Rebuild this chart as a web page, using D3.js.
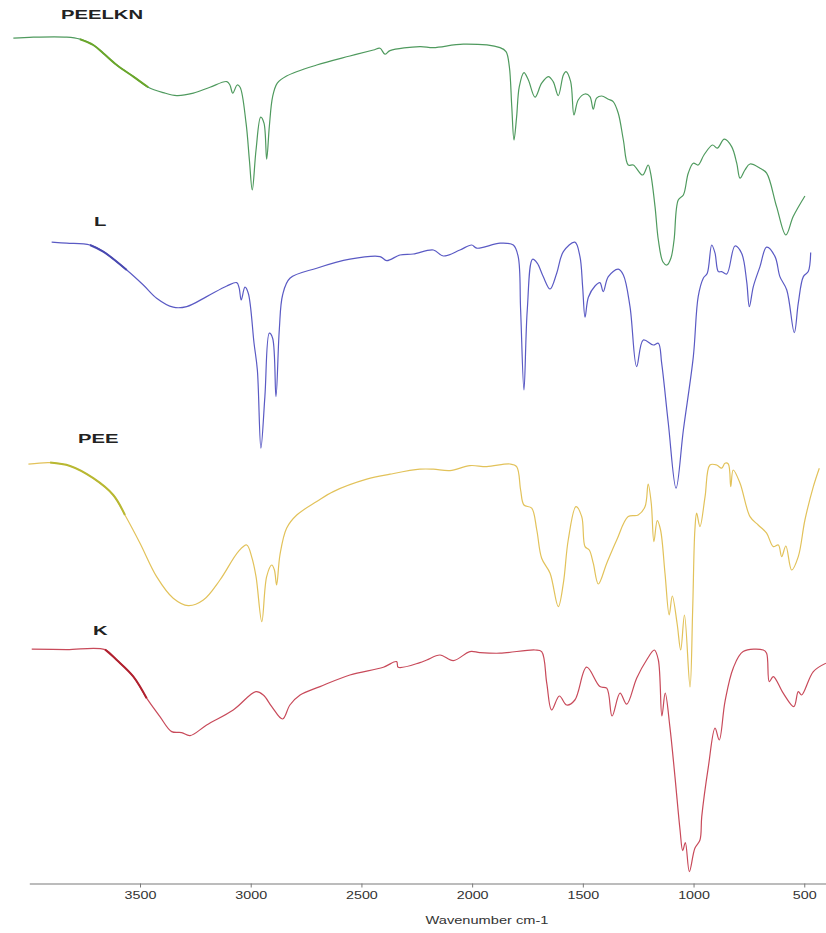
<!DOCTYPE html>
<html>
<head>
<meta charset="utf-8">
<script src="https://cdn.jsdelivr.net/npm/d3@7"></script>
<style>
  html, body { margin: 0; padding: 0; background: #fff; }
  svg { display: block; }
</style>
</head>
<body>
<svg id="chart" width="826" height="933"></svg>
<script>
// FTIR spectra, stacked with a vertical offset (a.u.). Each point: [wavenumber cm-1, offset transmittance]
const seriesNames = ["PEELKN", "L", "PEE", "K"];

const peelkn = [
  [4072,422.9],[3982,423.4],[3831,423.4],[3771,422.4],[3711,419.5],[3666,415.4],[3605,409.5],
  [3530,403.7],[3463,398.4],[3395,395.7],[3334,394.2],[3259,395.4],[3184,398.4],[3108,401.2],
  [3094,399.5],[3081,395.4],[3061,399.5],[3048,398.4],[3021,380.4],[3006,362],[2993,347],
  [2976,367],[2955,383.4],[2940,380.4],[2928,362.4],[2916,378.7],[2901,393.7],[2880,400.4],
  [2838,404],[2702,409.5],[2552,414],[2446,417],[2416,417.9],[2394,414.9],[2371,416.7],
  [2236,418.7],[2175,418.2],[2040,419.9],[1874,418.2],[1847,416.2],[1832,408.7],[1821,388.7],
  [1811,372],[1799,383.7],[1787,398.7],[1766,405.7],[1746,402],[1716,393.4],[1686,400.4],
  [1656,403.7],[1634,401.2],[1611,394.2],[1588,404.5],[1576,406.2],[1555,401.2],[1540,384.5],
  [1521,392],[1490,395],[1468,393.7],[1453,387.4],[1438,392.9],[1415,394],[1385,392.4],
  [1363,391.2],[1340,385.4],[1317,372],[1295,359.5],[1272,359.5],[1230,354.5],[1205,359.5],
  [1194,355.4],[1174,338.7],[1159,322],[1138,311],[1120,309.5],[1102,313],[1088,322],
  [1069,342],[1046,344.5],[1024,355.4],[1001,360.4],[979,359.5],[953,364.5],[914,369.5],
  [893,367.9],[861,372.4],[828,368.7],[805,360.4],[790,352.9],[768,357],[745,360],[700,357.9],
  [670,355.4],[625,338.7],[583,324.5],[550,333.7],[497,344]
];

const lSpec = [
  [3899,320.9],[3831,320.4],[3726,319.5],[3666,316.2],[3560,307],[3485,299.5],[3425,292.9],
  [3350,288.4],[3289,288.7],[3199,293.7],[3108,299],[3063,300.7],[3052,297.9],[3043,292],
  [3026,298.4],[3011,295.4],[2985,270.4],[2970,257],[2954,217.9],[2936,243.7],[2916,275.4],
  [2901,272.9],[2886,243.7],[2871,277],[2856,294.5],[2823,302.9],[2702,307.9],[2552,312.4],
  [2416,313.7],[2386,311.7],[2326,314.5],[2266,315],[2175,317],[2130,314],[2055,317],
  [2002,319.5],[1979,317.9],[1874,320.4],[1814,319.5],[1792,313.7],[1781,287],[1766,247],
  [1751,287],[1727,312.4],[1706,310.4],[1679,303.7],[1648,297.5],[1618,305.4],[1588,316.2],
  [1536,320.9],[1513,313.7],[1501,298.7],[1490,283.4],[1475,293.4],[1445,299],[1423,300.7],
  [1408,296.2],[1385,303.7],[1340,307.4],[1317,304.5],[1287,288.7],[1257,258.7],[1227,272],
  [1182,269.5],[1159,270.4],[1144,260.4],[1114,230.4],[1079,197.9],[1046,227],[1001,263.7],
  [979,293.7],[956,302.9],[938,305.4],[918,319.5],[903,315.4],[888,306.2],[873,306.2],
  [850,305],[813,319],[783,315.4],[760,301.2],[748,288.7],[730,298.7],[700,308.7],[670,318.4],
  [632,313.7],[610,303.7],[579,297],[545,275.7],[527,290.4],[504,303.7],[482,306.2],[471,315.7]
];

const pee = [
  [4004,209.9],[3906,210.7],[3816,209],[3711,202.9],[3621,194.5],[3568,184.5],[3500,170.4],
  [3425,153.7],[3350,142.9],[3282,139.2],[3214,142],[3139,152],[3056,166.2],[3018,169.5],
  [2996,163.7],[2976,153.7],[2950,131.2],[2928,153.7],[2905,159.5],[2893,157],[2883,149.5],
  [2868,164.5],[2838,177.9],[2792,184.5],[2702,191.2],[2627,196.2],[2476,202.4],[2371,204.9],
  [2236,207.4],[2175,207.4],[2100,206.7],[2010,209.2],[1934,208.7],[1829,210],[1799,208.7],
  [1781,197],[1766,189.5],[1731,187.9],[1708,177],[1686,162.9],[1648,155.4],[1611,138.7],
  [1588,150.4],[1566,172],[1531,188.7],[1505,183.7],[1490,168.7],[1471,167],[1453,160.4],
  [1430,150],[1392,160.4],[1347,172],[1295,183.7],[1250,184.5],[1219,188.7],[1205,200],
  [1191,190.4],[1179,171.2],[1164,181.7],[1149,177],[1129,155.4],[1110,134.5],[1096,144],
  [1074,130],[1058,117],[1041,134.5],[1016,98.5],[1004,137],[994,177],[986,185.4],[971,178.7],
  [948,193.7],[926,209.5],[896,209.5],[873,207.9],[858,210.4],[843,210],[832,198.7],[821,207],
  [790,200.4],[745,183.7],[708,179.5],[670,175.4],[640,168.7],[617,169.5],[602,163.7],
  [583,169],[557,157],[527,163.7],[497,182],[459,198.7],[432,207.9]
];

const kSpec = [
  [3989,117.4],[3831,117.2],[3658,117.2],[3605,112],[3530,103.7],[3470,92.9],[3410,83.7],
  [3357,76.2],[3312,75.7],[3274,74.2],[3199,79.5],[3079,87],[2976,96.2],[2943,94.5],
  [2905,88.7],[2856,82.5],[2823,89.5],[2777,94.5],[2687,98.7],[2552,104.5],[2401,108.4],
  [2341,111.2],[2334,108.4],[2236,110.7],[2205,112],[2145,114.5],[2085,111.7],[2010,116.2],
  [1965,115.7],[1874,115.4],[1716,117],[1686,116.2],[1663,100.4],[1641,87],[1606,94],
  [1573,89.5],[1536,92],[1483,108.4],[1423,98.7],[1392,97.9],[1368,84],[1332,95.4],
  [1302,89.9],[1257,102.9],[1212,112],[1177,117],[1159,112],[1143,84],[1128,95.4],
  [1107,78.7],[1084,53.7],[1061,27],[1049,16.7],[1037,20.7],[1019,6.2],[994,17.9],[971,22],
  [963,33.7],[933,58.7],[903,77.9],[884,72],[858,91.2],[821,107.9],[776,116.2],[685,117],
  [670,115.4],[658,101.2],[640,103.7],[595,95.4],[547,88.7],[527,96.2],[512,94.5],
  [459,106.2],[402,110.4]
];

const seriesData = [peelkn, lSpec, pee, kSpec];
const seriesColors = ["#4f9a5e", "#5a5ac4", "#e2c25a", "#c84a5a"];
// darker, noisier stretch at the high-wavenumber start of each trace
const startBands = [[3830, 3460], [3730, 3530], [3906, 3560], [3658, 3470]];
const startColors = ["#6aa62a", "#4848b0", "#b8b832", "#b0202e"];

const xTicks = [3500, 3000, 2500, 2000, 1500, 1000, 500];
const xTitle = "Wavenumber cm-1";
const labelPos = [[61, 19], [94, 226], [78, 443], [93, 635]];

const svg = d3.select("#chart");
const x = d3.scaleLinear().domain([4000, 400]).range([29.3, 826.4]);
const y = d3.scaleLinear().domain([0, 425]).range([884, 34]);

const line = d3.line()
  .x(d => x(d[0]))
  .y(d => y(d[1]))
  .curve(d3.curveCatmullRom.alpha(0.5));

seriesData.forEach((data, i) => {
  svg.append("path")
    .datum(data)
    .attr("fill", "none")
    .attr("stroke", seriesColors[i])
    .attr("stroke-width", 1.2)
    .attr("stroke-linejoin", "round")
    .attr("d", line);

  const [hi, lo] = startBands[i];
  const seg = data.filter(d => d[0] <= hi && d[0] >= lo);
  svg.append("path")
    .datum(seg)
    .attr("fill", "none")
    .attr("stroke", startColors[i])
    .attr("stroke-width", 2)
    .attr("stroke-linejoin", "round")
    .attr("d", line);
});

// series labels
seriesNames.forEach((name, i) => {
  svg.append("text")
    .attr("transform", `translate(${labelPos[i][0]},${labelPos[i][1]}) scale(1.5,1)`)
    .attr("font-family", "Liberation Sans, Arial, sans-serif")
    .attr("font-size", 13.5)
    .attr("font-weight", "bold")
    .attr("fill", "#222")
    .text(name);
});

// x axis
const axis = svg.append("g")
  .attr("transform", `translate(0,${y(0) - 0.5})`)
  .call(d3.axisBottom(x).tickValues(xTicks).tickSize(4).tickSizeOuter(0).tickFormat(d3.format("d")));
axis.select(".domain").attr("stroke", "#7a7a7a").attr("stroke-width", 1.2);
axis.selectAll(".tick line").attr("stroke", "#7a7a7a");
axis.selectAll(".tick text")
  .attr("font-family", "Liberation Sans, Arial, sans-serif")
  .attr("font-size", 11)
  .attr("fill", "#333")
  .attr("y", 8)
  .attr("transform", "scale(1.3,1)");

svg.append("text")
  .attr("transform", `translate(487,924) scale(1.33,1)`)
  .attr("text-anchor", "middle")
  .attr("font-family", "Liberation Sans, Arial, sans-serif")
  .attr("font-size", 11)
  .attr("fill", "#333")
  .text(xTitle);
</script>
</body>
</html>
